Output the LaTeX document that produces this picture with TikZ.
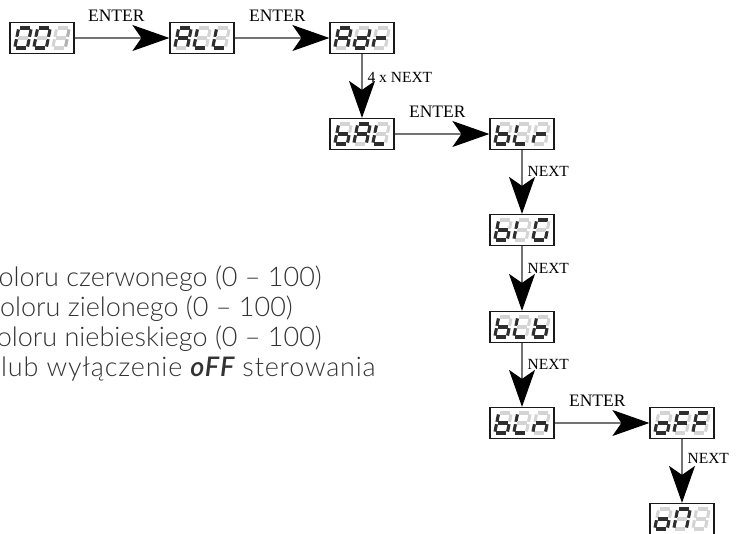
\documentclass[tikz,border=0pt]{standalone}
\usepackage{fontspec}
\setmainfont{Liberation Serif}
\newfontfamily\lightfont{Lato Light}
\newfontfamily\semiit{Lato Semibold Italic}[LetterSpace=3]
\newfontfamily\lightwide{Lato Light}[LetterSpace=3]
\usetikzlibrary{arrows.meta}
\tikzset{
  seg0/.style={line width=3.1pt, draw=black!17},
  seg1/.style={line width=3.1pt, draw=black!82},
  seg2/.style={line width=3.1pt, draw=black!30},
  dbox/.style={draw=black!90, line width=1.2pt, minimum width=64pt, minimum height=31pt, inner sep=0pt},
  conn/.style={draw=black!55, line width=1.2pt, -{Stealth[length=37pt,width=26pt,inset=9pt,color=black]}},
  lab/.style={font=\fontsize{15.5}{16}\selectfont, inner sep=1pt},
  labe/.style={font=\fontsize{17.5}{18}\selectfont, inner sep=1pt},
  txt/.style={font=\lightfont\fontsize{27}{30}\selectfont, text=black!80, anchor=base east, inner sep=0pt}
}
% one seven-segment digit: #1 position, #2..#8 segments a..g (0 off, 1 on, 2 dim)
\newcommand{\sdig}[8]{%
  \begin{scope}[shift={#1}, xslant=0.2]
    \draw[seg#2] (-4.9,-10) -- (4.9,-10);
    \draw[seg#3] (6.3,-8.6) -- (6.3,-1.2);
    \draw[seg#4] (6.3,1.2) -- (6.3,8.6);
    \draw[seg#5] (-4.9,10) -- (4.9,10);
    \draw[seg#6] (-6.3,1.2) -- (-6.3,8.6);
    \draw[seg#7] (-6.3,-8.6) -- (-6.3,-1.2);
    \draw[seg#8] (-4.9,0) -- (4.9,0);
  \end{scope}}
\newcommand{\dd}[2]{\sdig{#1}#2}
\newcommand{\disp}[4]{%
  \begin{scope}[shift={(#1.center)}]
    \dd{(-19,0)}{#2}\dd{(0,0)}{#3}\dd{(19,0)}{#4}
  \end{scope}}
\begin{document}
\begin{tikzpicture}[x=1pt,y=-1pt]
\useasboundingbox (0,0) rectangle (737,534);
\clip (0,0) rectangle (737,534);
% displays
\node[dbox] (b1) at (42,38) {};
\node[dbox] (b2) at (202,38) {};
\node[dbox] (b3) at (362,38) {};
\node[dbox] (b4) at (362,134) {};
\node[dbox] (b5) at (522,134) {};
\node[dbox] (b6) at (522,230) {};
\node[dbox] (b7) at (522,327) {};
\node[dbox] (b8) at (522,423) {};
\node[dbox] (b9) at (682,423) {};
\node[dbox] (b10) at (682,519) {};
\disp{b1}{1111110}{1111110}{0220000}
\disp{b2}{1110111}{0001110}{0001110}
\disp{b3}{1110111}{0111101}{0000101}
\disp{b4}{0011111}{1110111}{0001110}
\disp{b5}{0011111}{0001110}{0000101}
\disp{b6}{0011111}{0000110}{1011110}
\disp{b7}{0011111}{0001110}{0011111}
\disp{b8}{0011111}{0001110}{0010101}
\disp{b9}{0011101}{1000111}{1000111}
\disp{b10}{0011101}{1110110}{0000000}
% connectors
\draw[conn] (b1) -- node[labe, above=15pt, pos=0.44] {ENTER} (b2);
\draw[conn] (b2) -- node[labe, above=15pt, pos=0.45] {ENTER} (b3);
\draw[conn] (b3) -- node[lab, right=4pt, pos=0.36] {4 x NEXT} (b4);
\draw[conn] (b4) -- node[labe, above=15pt, pos=0.45] {ENTER} (b5);
\draw[conn] (b5) -- node[lab, right=4pt, pos=0.33] {NEXT} (b6);
\draw[conn] (b6) -- node[lab, right=4pt, pos=0.35] {NEXT} (b7);
\draw[conn] (b7) -- node[lab, right=4pt, pos=0.34] {NEXT} (b8);
\draw[conn] (b8) -- node[labe, above=15pt, pos=0.45] {ENTER} (b9);
\draw[conn] (b9) -- node[lab, right=4pt, pos=0.3] {NEXT} (b10);
% description text
\node[txt] (t1) at (322,287) {oloru czerwonego (0 – 100)};
\node[txt] (t2) at (293,317) {oloru zielonego (0 – 100)};
\node[txt] (t3) at (322,347) {oloru niebieskiego (0 – 100)};
\node[txt, anchor=base west, font=\lightwide\fontsize{27}{30}\selectfont] (t4) at (1,377) {lub wyłączenie {\semiit oFF} sterowania};
\end{tikzpicture}
\end{document}
